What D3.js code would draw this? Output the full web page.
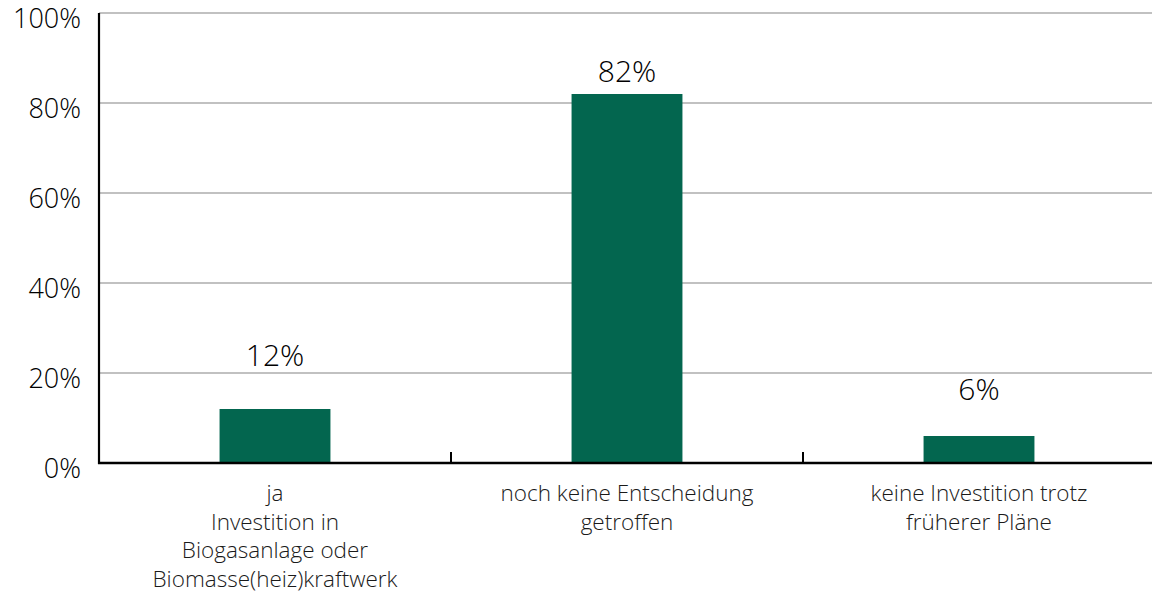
<!DOCTYPE html>
<html>
<head>
<meta charset="utf-8">
<script src="https://cdn.jsdelivr.net/npm/d3@7"></script>
<style>
  html, body { margin: 0; padding: 0; background: #fff; }
  svg { display: block; font-family: "Open Sans", "Noto Sans", sans-serif; font-weight: 350; }
</style>
</head>
<body>
<svg id="chart" width="1152" height="593"></svg>
<script>
// Survey answers: investment in biogas / biomass plants
const categories = [
  ["ja", "Investition in", "Biogasanlage oder", "Biomasse(heiz)kraftwerk"],
  ["noch keine Entscheidung", "getroffen"],
  ["keine Investition trotz", "früherer Pläne"]
];
const shares = [12, 82, 6];
const yTicks = [0, 20, 40, 60, 80, 100];

// value labels sit at individual heights above their bars
const labelLift = [43, 12, 36];

const svg = d3.select("#chart");
const margin = { left: 99, right: -3, top: 13, bottom: 130 };
const W = 1152, H = 593;

const x = d3.scaleBand()
  .domain(d3.range(categories.length))
  .range([margin.left, W - margin.right])
  .paddingInner(0)
  .paddingOuter(0);

const y = d3.scaleLinear()
  .domain([0, 100])
  .range([H - margin.bottom, margin.top]);

const barW = x.bandwidth() * 0.315;

// gridlines
svg.append("g")
  .selectAll("line")
  .data(yTicks.filter(d => d > 0))
  .join("line")
  .attr("x1", margin.left)
  .attr("x2", W)
  .attr("y1", d => y(d))
  .attr("y2", d => y(d))
  .attr("stroke", "#adadad")
  .attr("stroke-width", 1.4);

// y axis labels
const yAxis = d3.axisLeft(y)
  .tickValues(yTicks)
  .tickFormat(d => d + "%")
  .tickSize(0)
  .tickPadding(18);

const gy = svg.append("g")
  .attr("transform", `translate(${margin.left},0)`)
  .call(yAxis);
gy.select(".domain").remove();
gy.selectAll("text")
  .attr("font-size", 27)
  .attr("font-weight", 350)
  .attr("fill", "#000")
  .attr("dy", "0.55em")
  .attr("font-family", "'Open Sans', sans-serif");

// bars
svg.append("g")
  .selectAll("rect")
  .data(shares)
  .join("rect")
  .attr("x", (d, i) => x(i) + (x.bandwidth() - barW) / 2)
  .attr("width", barW)
  .attr("y", d => y(d))
  .attr("height", d => y(0) - y(d))
  .attr("fill", "#03664f");

// value labels
svg.append("g")
  .selectAll("text")
  .data(shares)
  .join("text")
  .attr("x", (d, i) => x(i) + x.bandwidth() / 2)
  .attr("y", (d, i) => y(d) - labelLift[i])
  .attr("text-anchor", "middle")
  .attr("font-size", 30)
  .attr("fill", "#000")
  .text(d => d + "%");

// left axis line
svg.append("line")
  .attr("x1", margin.left)
  .attr("x2", margin.left)
  .attr("y1", y(100))
  .attr("y2", y(0) + 1)
  .attr("stroke", "#000")
  .attr("stroke-width", 2.2);

// bottom axis with category separators
svg.append("line")
  .attr("x1", margin.left - 1)
  .attr("x2", W)
  .attr("y1", y(0))
  .attr("y2", y(0))
  .attr("stroke", "#000")
  .attr("stroke-width", 2.4);

svg.append("g")
  .selectAll("line")
  .data(d3.range(1, categories.length))
  .join("line")
  .attr("x1", i => x(i))
  .attr("x2", i => x(i))
  .attr("y1", y(0))
  .attr("y2", y(0) - 11)
  .attr("stroke", "#000")
  .attr("stroke-width", 2);

// category labels
const cat = svg.append("g")
  .selectAll("text")
  .data(categories)
  .join("text")
  .attr("x", (d, i) => x(i) + x.bandwidth() / 2)
  .attr("y", 501)
  .attr("text-anchor", "middle")
  .attr("font-size", 22.5)
  .attr("fill", "#1a1a1a");

cat.selectAll("tspan")
  .data(d => d)
  .join("tspan")
  .attr("x", function () { return d3.select(this.parentNode).attr("x"); })
  .attr("dy", (d, j) => j === 0 ? 0 : 28.6)
  .text(d => d);
</script>
</body>
</html>
